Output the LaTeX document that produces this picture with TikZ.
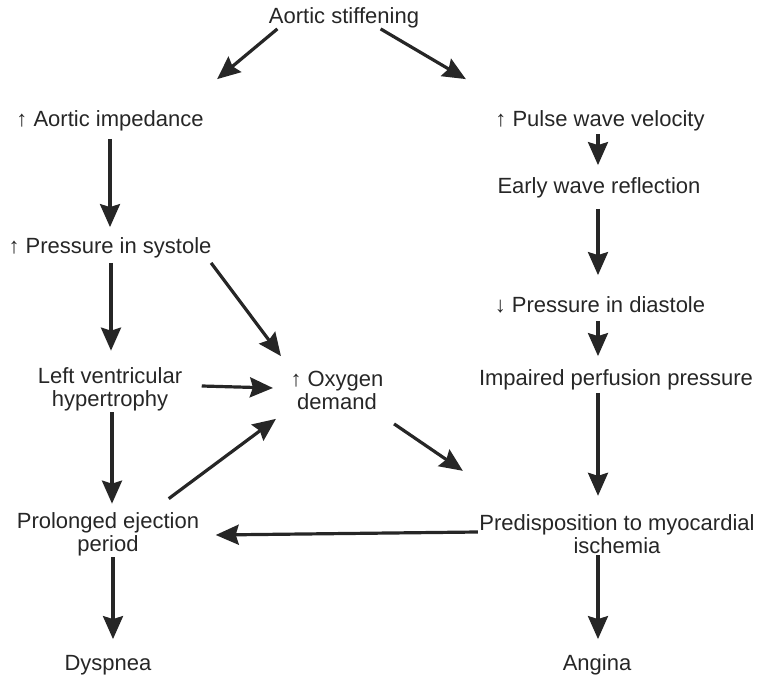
\documentclass[tikz,border=0pt]{standalone}
\usepackage{fontspec}
\setmainfont{Liberation Sans}
\usetikzlibrary{arrows.meta}
\tikzset{font=\fontsize{11}{11.5}\selectfont}
\tikzstyle{lbl}=[inner sep=0pt,text height=0.72em,text depth=0.21em,text=black!85]
\tikzstyle{lbltwo}=[inner sep=0pt,align=center,text=black!85]
\tikzset{every picture/.style={line width=1.6pt}}

\begin{document}
\begin{tikzpicture}[x=0.5pt,y=-0.5pt]
\useasboundingbox (0,0) rectangle (762,680);
\node[lbl] (AS) at (344,18) {Aortic stiffening};
\node[lbl] (AI) at (110,121) {↑ Aortic impedance};
\node[lbl] (PWV) at (600,121) {↑ Pulse wave velocity};
\node[lbl] (EWR) at (599,188) {Early wave reflection};
\node[lbl] (PS) at (110,248) {↑ Pressure in systole};
\node[lbl] (PD) at (600,307) {↓ Pressure in diastole};
\node[lbltwo] (LVH) at (110,389) {Left ventricular\\hypertrophy};
\node[lbltwo] (OD) at (337,390) {↑ Oxygen\\demand};
\node[lbl] (IPP) at (616,380) {Impaired perfusion pressure};
\node[lbltwo] (PMI) at (617,534) {Predisposition to myocardial\\ischemia};
\node[lbltwo] (PEP) at (108,534) {Prolonged ejection\\period};
\node[lbl] (Dys) at (108,665) {Dyspnea};
\node[lbl] (Ang) at (597,665) {Angina};
\path[->,>={Stealth[length=11.5pt,width=10pt,inset=1.5pt]},color=black!85]
([xshift=5pt]AS.south west) edge ([xshift=6pt,yshift=15.5pt]AI.north east)
([xshift=-20pt]AS.south east) edge ([xshift=-14pt,yshift=15.5pt]PWV.north west)
([yshift=-3.5pt]AI.south) edge ([yshift=5pt]PS.north)
([xshift=-1pt,yshift=-1pt]PWV.south) edge ([xshift=-0.5pt,yshift=6pt]EWR.north)
([xshift=-0.5pt,yshift=-5pt]EWR.south) edge ([xshift=-1pt,yshift=10.5pt]PD.north)
([xshift=-1pt,yshift=-1.5pt]PD.south) edge ([xshift=-9pt,yshift=6.5pt]IPP.north)
([xshift=-9pt,yshift=-1pt]IPP.south) edge ([xshift=-9.5pt,yshift=8.5pt]PMI.north)
([xshift=-9.5pt]PMI.south) edge ([xshift=0.5pt,yshift=7.5pt]Ang.north)
([xshift=0.5pt,yshift=-2pt]PS.south) edge ([xshift=0.5pt,yshift=7.5pt]LVH.north)
([xshift=1pt]LVH.south) edge ([xshift=2pt,yshift=3.5pt]PEP.north)
([xshift=2.5pt]PEP.south) edge ([xshift=2.5pt,yshift=7.5pt]Dys.north)
([xshift=-1pt,yshift=-2pt]PS.south east) edge ([xshift=-4pt,yshift=6.5pt]OD.north west)
([xshift=9pt,yshift=1.5pt]LVH.east) edge ([xshift=-8pt,yshift=1pt]OD.west)
([xshift=-16pt,yshift=6pt]PEP.north east) edge ([xshift=-6.5pt,yshift=-4pt]OD.south west)
([xshift=4.5pt,yshift=-6.5pt]OD.south east) edge ([xshift=-7.5pt,yshift=21pt]PMI.north west)
([yshift=1pt]PMI.west) edge ([xshift=7.5pt,yshift=-0.5pt]PEP.east);
\end{tikzpicture}
\end{document}
